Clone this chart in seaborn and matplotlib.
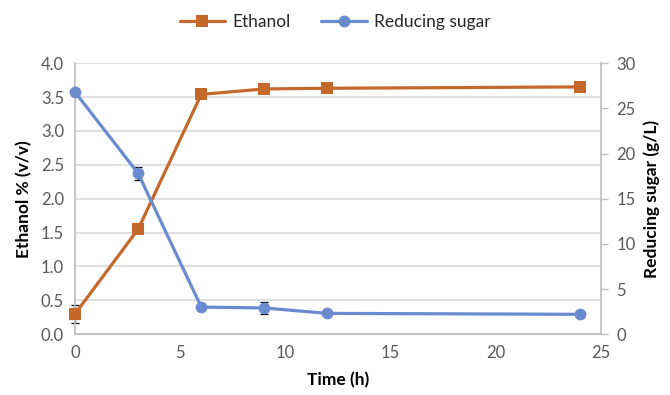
import matplotlib
matplotlib.use("Agg")
import matplotlib.pyplot as plt
import seaborn as sns
import pandas as pd
from matplotlib.lines import Line2D

time_h = [0, 3, 6, 9, 12, 24]
ethanol = [0.30, 1.55, 3.54, 3.62, 3.63, 3.65]
ethanol_err = [0.13, 0.03, 0.03, 0.03, 0.03, 0.02]
sugar = [26.8, 17.8, 3.0, 2.9, 2.3, 2.2]
sugar_err = [0.2, 0.75, 0.15, 0.7, 0.15, 0.1]

x_ticks = [0, 5, 10, 15, 20, 25]
left_ticks = [0.0, 0.5, 1.0, 1.5, 2.0, 2.5, 3.0, 3.5, 4.0]
right_ticks = [0, 5, 10, 15, 20, 25, 30]

orange = "#C5682C"
blue = "#6B8BCF"
grid_c = "#D9D9D9"
tick_c = "#595959"

sns.set_theme(style="white")
plt.rcParams['font.family'] = ['Lato', 'DejaVu Sans']

fig = plt.figure(figsize=(6.7, 3.95), dpi=100)
ax = fig.add_axes([0.112, 0.154, 0.785, 0.686])
ax2 = ax.twinx()

df = pd.DataFrame({"t": time_h, "eth": ethanol, "sug": sugar})

eb1 = ax.errorbar(time_h, ethanol, yerr=ethanol_err, fmt="none", ecolor="black",
                  elinewidth=0.9, capsize=3, capthick=0.9, zorder=2)
sns.lineplot(data=df, x="t", y="eth", ax=ax, color=orange, marker="s",
             markersize=8, linewidth=2.3, markeredgewidth=0, zorder=3)

eb2 = ax2.errorbar(time_h, sugar, yerr=sugar_err, fmt="none", ecolor="black",
                   elinewidth=0.9, capsize=3, capthick=0.9, zorder=2)
sns.lineplot(data=df, x="t", y="sug", ax=ax2, color=blue, marker="o",
             markersize=8.5, linewidth=2.3, markeredgewidth=0, zorder=3)

for a in (ax, ax2):
    for art in a.get_children():
        if isinstance(art, (Line2D,)) or art.__class__.__name__ == "LineCollection":
            art.set_clip_on(False)

ax.set_xlim(0, 25)
ax.set_ylim(0, 4.0)
ax2.set_ylim(0, 30)
ax.set_xticks(x_ticks)
ax.set_yticks(left_ticks)
ax.set_yticklabels([f"{v:.1f}" for v in left_ticks])
ax2.set_yticks(right_ticks)

ax.yaxis.grid(True, color=grid_c, linewidth=1.2)
ax.set_axisbelow(True)
ax.xaxis.grid(False)

for a in (ax, ax2):
    a.spines["top"].set_visible(False)
    a.tick_params(labelsize=12, colors=tick_c)
ax.spines["right"].set_visible(False)
ax2.spines["left"].set_visible(False)
ax2.spines["bottom"].set_visible(False)
ax.spines["left"].set_color("#BFBFBF")
ax.spines["bottom"].set_color("#BFBFBF")
ax2.spines["right"].set_color("#BFBFBF")
ax.tick_params(axis="both", length=0, pad=8)
ax2.tick_params(axis="y", length=5, width=1, color="#BFBFBF", pad=6, direction="out")

ax.set_xlabel("Time (h)", fontsize=12.5, fontweight="bold", color="black", labelpad=8)
ax.set_ylabel("Ethanol % (v/v)", fontsize=12.5, fontweight="bold", color="black", labelpad=6)
ax2.set_ylabel("Reducing sugar (g/L)", fontsize=12.5, fontweight="bold", color="black", labelpad=6)

handles = [
    Line2D([], [], color=orange, marker="s", markersize=8, linewidth=2.3, markeredgewidth=0),
    Line2D([], [], color=blue, marker="o", markersize=8.5, linewidth=2.3, markeredgewidth=0),
]
fig.legend(handles, ["Ethanol", "Reducing sugar"], loc="center", bbox_to_anchor=(0.5, 0.945),
           ncol=2, frameon=False, fontsize=12.5, handlelength=2.6, columnspacing=1.8, handletextpad=0.4)

fig.savefig("out.png", dpi=100)
